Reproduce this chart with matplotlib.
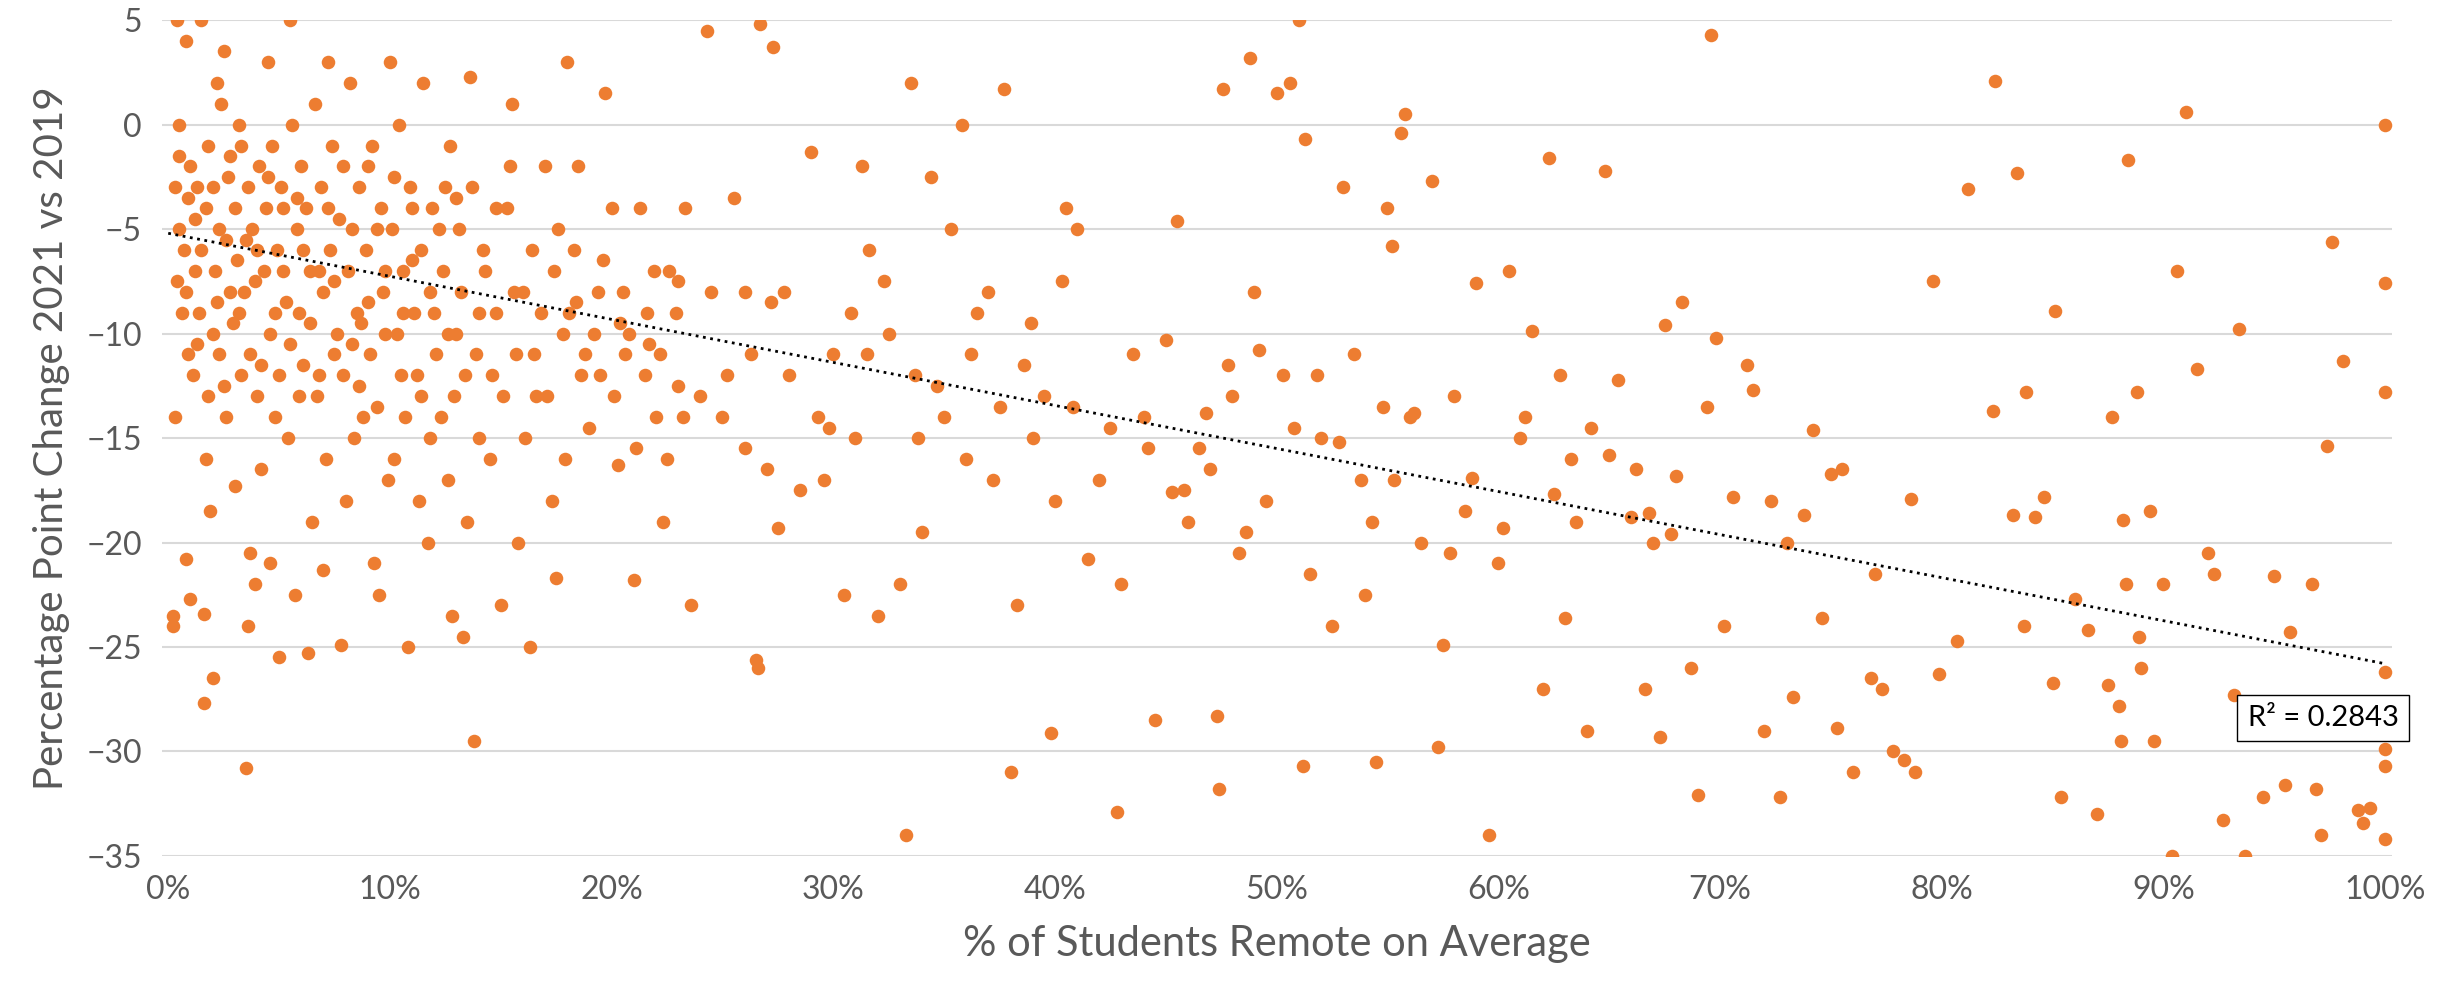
import numpy as np
import matplotlib.pyplot as plt

plt.rcParams['font.family'] = ['Lato', 'DejaVu Sans']

pts = [
(0.2,-23.5),(0.2,-24),(0.3,-14),(0.3,-3),(0.4,5),(0.5,0),(0.5,-1.5),(0.6,-9),(0.7,-6),(0.8,4),(0.8,-20.8),(0.9,-11),(1,-22.7),(1.1,-12),(1.2,-7),(1.3,-3),(1.5,5),(1.6,-27.7),(1.6,-23.4),(1.7,-16),(1.8,-13),(1.9,-18.5),(2,-26.5),(2,-10),(2.2,2),(2.3,-5),(2.5,3.5),(2.6,-14),(2.8,-8),(3,-17.3),(3.2,0),(3.3,-12),(3.5,-30.8),(3.6,-24),(3.7,-20.5),(3.9,-22),(4,-6),(4.2,-16.5),(4.5,3),(4.6,-21),(4.8,-9),(5,-25.5),(5.2,-4),(5.5,5),(5.7,-22.5),(5.9,-13),(6,-2),(6.3,-25.3),(6.5,-19),(6.8,-7),(7,-21.3),(7.2,3),(7.5,-11),(7.8,-24.9),(8,-18),(8.3,-5),(8.5,-9),(8.8,-14),(9,-2),(9.3,-21),(9.5,-22.5),(9.8,-7),(10,3),(10.2,-16),(10.5,-12),(10.8,-25),(11,-4),(11.3,-18),(11.7,-20),(12,-9),(12.3,-14),(12.5,-3),(12.8,-23.5),(13,-10),(13.3,-24.5),(13.6,2.3),(13.8,-29.5),(14,-15),(14.3,-7),(14.6,-12),(15,-23),(15.3,-4),(15.5,1),(15.8,-20),(16,-8),(16.3,-25),(16.6,-13),(17,-2),(17.3,-18),(17.5,-21.7),(17.8,-10),(18,3),(18.3,-6),(18.6,-12),(19,-14.5),(19.4,-8),(19.7,1.5),(20,-4),(20.3,-16.3),(20.6,-11),(21,-21.8),(21.3,-4),(21.6,-9),(22,-14),(22.3,-19),(22.6,-7),(23,-12.5),(23.3,-4),(23.6,-23),(24,-13),(24.3,4.5),(25,-14),(25.5,-3.5),(26,-8),(26.3,-11),(26.5,-25.6),(26.6,-26),(26.7,4.8),(27,-16.5),(27.3,3.7),(27.5,-19.3),(27.8,-8),(28,-12),(29,-1.3),(29.3,-14),(29.6,-17),(30,-11),(30.5,-22.5),(30.8,-9),(31,-15),(31.3,-2),(31.6,-6),(32,-23.5),(32.5,-10),(33,-22),(33.3,-34),(33.5,2),(33.7,-12),(34,-19.5),(34.4,-2.5),(35,-14),(35.3,-5),(35.8,0),(36,-16),(36.5,-9),(37,-8),(37.5,-13.5),(37.7,1.7),(38,-31),(38.3,-23),(38.6,-11.5),(39,-15),(39.5,-13),(39.8,-29.1),(40,-18),(40.3,-7.5),(40.5,-4),(41,-5),(41.5,-20.8),(42,-17),(42.8,-32.9),(43,-22),(43.5,-11),(44,-14),(44.5,-28.5),(45,-10.3),(45.3,-17.6),(45.5,-4.6),(46,-19),(46.5,-15.5),(47,-16.5),(47.3,-28.3),(47.4,-31.8),(47.6,1.7),(48,-13),(48.3,-20.5),(48.8,3.2),(49,-8),(49.5,-18),(50,1.5),(50.3,-12),(50.6,2),(51,5),(51.2,-30.7),(51.3,-0.7),(51.5,-21.5),(52,-15),(52.5,-24),(53,-3),(53.5,-11),(54,-22.5),(54.3,-19),(54.5,-30.5),(55,-4),(55.3,-17),(55.6,-0.4),(55.8,0.5),(56,-14),(56.5,-20),(57,-2.7),(57.3,-29.8),(57.5,-24.9),(58,-13),(58.5,-18.5),(59,-7.6),(59.6,-34),(60,-21),(60.5,-7),(61,-15),(61.5,-9.9),(62,-27),(62.3,-1.6),(62.8,-12),(63,-23.6),(63.5,-19),(64,-29),(64.8,-2.2),(65.4,-12.2),(66,-18.8),(66.6,-27),(67,-20),(67.3,-29.3),(67.5,-9.6),(68,-16.8),(68.3,-8.5),(68.7,-26),(69,-32.1),(69.6,4.3),(69.8,-10.2),(70.2,-24),(70.6,-17.8),(71.2,-11.5),(71.5,-12.7),(72,-29),(72.3,-18),(72.7,-32.2),(73,-20),(73.3,-27.4),(73.8,-18.7),(74.2,-14.6),(74.6,-23.6),(75,-16.7),(75.3,-28.9),(75.5,-16.5),(76,-31),(76.8,-26.5),(77,-21.5),(77.3,-27),(77.8,-30),(78.3,-30.4),(78.6,-17.9),(78.8,-31),(79.6,-7.5),(79.9,-26.3),(80.7,-24.7),(81.2,-3.1),(82.3,-13.7),(82.4,2.1),(83.2,-18.7),(83.4,-2.3),(83.7,-24),(83.8,-12.8),(84.2,-18.8),(84.6,-17.8),(85,-26.7),(85.1,-8.9),(85.4,-32.2),(86,-22.7),(86.6,-24.2),(87,-33),(87.5,-26.8),(87.7,-14),(88,-27.8),(88.1,-29.5),(88.2,-18.9),(88.3,-22),(88.4,-1.7),(88.8,-12.8),(88.9,-24.5),(89,-26),(89.4,-18.5),(89.6,-29.5),(90,-22),(90.4,-35),(90.6,-7),(91,0.6),(91.5,-11.7),(92,-20.5),(92.3,-21.5),(92.7,-33.3),(93.2,-27.3),(93.4,-9.8),(93.7,-35),(94.5,-32.2),(95,-21.6),(95.5,-31.6),(95.7,-24.3),(96.7,-22),(96.9,-31.8),(97.1,-34),(97.4,-15.4),(97.6,-5.6),(98.1,-11.3),(98.8,-32.8),(99,-33.4),(99.3,-32.7),(100,0),(100,-7.6),(100,-12.8),(100,-26.2),(100,-29.9),(100,-30.7),(100,-34.2),
(0.5,-5),(0.8,-8),(1,-2),(1.2,-4.5),(1.4,-9),(1.5,-6),(1.8,-1),(2,-3),(2.1,-7),(2.3,-11),(2.4,1),(2.6,-5.5),(2.7,-2.5),(2.9,-9.5),(3,-4),(3.1,-6.5),(3.3,-1),(3.4,-8),(3.6,-3),(3.7,-11),(3.8,-5),(4,-13),(4.1,-2),(4.3,-7),(4.4,-4),(4.6,-10),(4.7,-1),(4.9,-6),(5,-12),(5.1,-3),(5.3,-8.5),(5.4,-15),(5.6,0),(5.8,-5),(5.9,-9),(6.1,-11.5),(6.2,-4),(6.4,-7),(6.6,1),(6.7,-13),(6.9,-3),(7,-8),(7.1,-16),(7.3,-6),(7.4,-1),(7.6,-10),(7.7,-4.5),(7.9,-12),(8.1,-7),(8.2,2),(8.4,-15),(8.6,-3),(8.7,-9.5),(8.9,-6),(9.1,-11),(9.2,-1),(9.4,-13.5),(9.6,-4),(9.7,-8),(9.9,-17),(10.1,-5),(10.3,-10),(10.4,0),(10.6,-7),(10.7,-14),(10.9,-3),(11.1,-9),(11.2,-12),(11.4,-6),(11.5,2),(11.8,-15),(11.9,-4),(12.1,-11),(12.4,-7),(12.6,-17),(12.7,-1),(12.9,-13),(13.1,-5),(13.2,-8),(13.5,-19),(13.7,-3),(13.9,-11),(14.2,-6),(14.5,-16),(14.8,-9),(15.1,-13),(15.4,-2),(15.7,-11),(16.1,-15),(16.4,-6),(16.8,-9),(17.1,-13),(17.6,-5),(17.9,-16),(18.1,-9),(18.5,-2),(18.8,-11),(19.2,-10),(19.6,-6.5),(20.1,-13),(20.5,-8),(20.8,-10),(21.1,-15.5),(21.5,-12),(21.9,-7),(22.2,-11),(22.5,-16),(22.9,-9),(23.2,-14),(24.5,-8),(25.2,-12),(26,-15.5),(27.2,-8.5),(28.5,-17.5),(29.8,-14.5),(31.5,-11),(32.3,-7.5),(33.8,-15),(34.7,-12.5),(36.2,-11),(37.2,-17),(38.9,-9.5),(40.8,-13.5),(42.5,-14.5),(44.2,-15.5),(45.8,-17.5),(46.8,-13.8),(47.8,-11.5),(48.6,-19.5),(49.2,-10.8),(50.8,-14.5),(51.8,-12),(52.8,-15.2),(53.8,-17),(54.8,-13.5),(55.2,-5.8),(56.2,-13.8),(57.8,-20.5),(58.8,-16.9),(60.2,-19.3),(61.2,-14),(62.5,-17.7),(63.3,-16),(64.2,-14.5),(65,-15.8),(66.2,-16.5),(66.8,-18.6),(67.8,-19.6),(69.4,-13.5),
(0.4,-7.5),(0.9,-3.5),(1.3,-10.5),(1.7,-4),(2.2,-8.5),(2.5,-12.5),(2.8,-1.5),(3.2,-9),(3.5,-5.5),(3.9,-7.5),(4.2,-11.5),(4.5,-2.5),(4.8,-14),(5.2,-7),(5.5,-10.5),(5.8,-3.5),(6.1,-6),(6.4,-9.5),(6.8,-12),(7.2,-4),(7.5,-7.5),(7.9,-2),(8.3,-10.5),(8.6,-12.5),(9,-8.5),(9.4,-5),(9.8,-10),(10.2,-2.5),(10.6,-9),(11,-6.5),(11.4,-13),(11.8,-8),(12.2,-5),(12.6,-10),(13,-3.5),(13.4,-12),(14,-9),(14.8,-4),(15.6,-8),(16.5,-11),(17.4,-7),(18.4,-8.5),(19.5,-12),(20.4,-9.5),(21.7,-10.5),(23,-7.5),
]
remote = np.array([p[0] for p in pts]) / 100
change = np.array([p[1] for p in pts])

# Excel trendline shown on the chart
trend_intercept = -5.2
trend_slope = -20.6
r2_label = "R² = 0.2843"

gray = "#595959"
fig = plt.figure(figsize=(24.48, 10.07), dpi=100)
ax = fig.add_axes([0.066, 0.15, 0.911, 0.83])
ax.grid(axis='y', color="#D9D9D9", linewidth=1.5)
ax.set_axisbelow(True)
ax.scatter(remote, change, s=95, color="#ED7D31", zorder=3, linewidths=0)
xs = np.array([0, 1])
ax.plot(xs, trend_intercept + trend_slope * xs, color="black", linestyle=":", linewidth=2, zorder=4)
ax.text(0.972, -28.4, r2_label, fontsize=21, ha='center', va='center', zorder=5,
        bbox=dict(facecolor='white', edgecolor='black', boxstyle='square,pad=0.35'))

ax.set_xlim(-0.003, 1.003)
ax.set_ylim(-35, 5)
ax.set_xticks(np.arange(0, 1.01, 0.1))
ax.set_xticklabels([f"{int(round(v*100))}%" for v in np.arange(0, 1.01, 0.1)])
ax.set_yticks(np.arange(-35, 6, 5))
for s in ax.spines.values():
    s.set_visible(False)
ax.tick_params(length=0, labelsize=23, colors=gray, pad=14)
ax.set_xlabel("% of Students Remote on Average", fontsize=30, color=gray, labelpad=14)
ax.set_ylabel("Percentage Point Change 2021 vs 2019", fontsize=29, color=gray, labelpad=12)
fig.savefig("out.png")
